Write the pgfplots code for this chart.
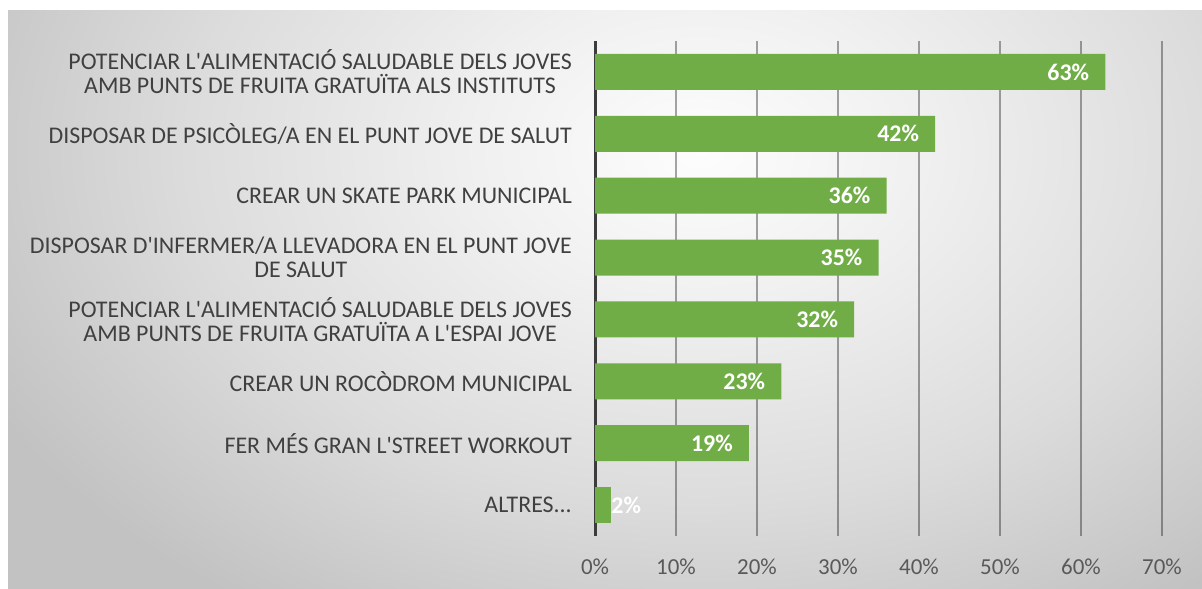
\documentclass[border=0pt]{standalone}
\usepackage{fontspec}
\setmainfont{Carlito}
\usepackage{pgfplots}
\pgfplotsset{compat=1.18}
\definecolor{bargreen}{RGB}{112,173,71}
\definecolor{lbl}{RGB}{64,64,64}
\definecolor{ticklbl}{RGB}{89,89,89}
\definecolor{axisdark}{RGB}{60,60,60}
\definecolor{bgA}{RGB}{253,253,253}
\definecolor{bgB}{RGB}{240,240,240}
\definecolor{bgC}{RGB}{220,220,220}
\definecolor{bgD}{RGB}{194,194,194}
\pgfdeclareradialshading{chartbg}{\pgfpoint{0bp}{0bp}}{color(0bp)=(bgA); color(7bp)=(bgB); color(16bp)=(bgC); color(25bp)=(bgD); color(50bp)=(bgD)}
\newcommand\ap{\textquotesingle}

\begin{document}
\begin{tikzpicture}[font=\fontsize{23}{24}\selectfont]
\useasboundingbox (0,0) rectangle (1202bp,-589bp);
\fill[white] (0,0) rectangle (1202bp,-589bp);
\begin{scope}
  \clip (8bp,-10bp) rectangle (1202bp,-589bp);
  \fill[bgD] (8bp,-10bp) rectangle (1202bp,-589bp);
  \shade[shading=chartbg] (700bp,-150bp) ellipse [x radius=800bp, y radius=550bp];
\end{scope}
\begin{axis}[
  at={(595bp,-536bp)}, anchor=south west,
  scale only axis, width=567bp, height=495bp,
  xbar, bar width=36bp, bar shift=0pt,
  xmin=0, xmax=70, ymin=-0.5, ymax=7.5,
  clip=false,
  /pgf/number format/assume math mode=true,
  xtick={0,10,20,30,40,50,60,70},
  xticklabels={0\%,10\%,20\%,30\%,40\%,50\%,60\%,70\%},
  ytick={0,1,2,3,4,5,6,7},
  yticklabels={
    {ALTRES.{}.{}.},
    {FER MÉS GRAN L\ap STREET WORKOUT},
    {CREAR UN ROCÒDROM MUNICIPAL},
    {POTENCIAR L\ap ALIMENTACIÓ SALUDABLE DELS JOVES\\AMB PUNTS DE FRUITA GRATUÏTA A L\ap ESPAI JOVE},
    {DISPOSAR D\ap INFERMER/A LLEVADORA EN EL PUNT JOVE\\DE SALUT},
    {CREAR UN SKATE PARK MUNICIPAL},
    {DISPOSAR DE PSICÒLEG/A EN EL PUNT JOVE DE SALUT},
    {POTENCIAR L\ap ALIMENTACIÓ SALUDABLE DELS JOVES\\AMB PUNTS DE FRUITA GRATUÏTA ALS INSTITUTS}
  },
  yticklabel style={align=center, text=lbl, inner sep=0pt, xshift=-23bp,
    font=\fontsize{24}{24}\selectfont},
  xticklabel style={text=ticklbl, inner sep=0pt, yshift=-23bp},
  major tick length=0pt,
  xmajorgrids,
  grid style={black, opacity=0.35, line width=1.5bp},
  axis lines*=left,
  x axis line style={draw=none},
  y axis line style={-, axisdark, line width=3bp},
  nodes near coords={\pgfmathprintnumber{\pgfplotspointmeta}\%},
]
\addplot[fill=bargreen, draw=none, point meta=x,
  every node near coord/.append style={anchor=east, xshift=-16bp, text=white,
    font=\fontsize{24}{24}\selectfont\bfseries, inner sep=0pt}]
  coordinates {(63,7) (42,6) (36,5) (35,4) (32,3) (23,2) (19,1)};
\addplot[fill=bargreen, draw=none, point meta=x,
  every node near coord/.append style={anchor=west, xshift=0bp, text=white,
    font=\fontsize{24}{24}\selectfont\bfseries, inner sep=0pt}]
  coordinates {(2,0)};
\end{axis}
\end{tikzpicture}
\end{document}
